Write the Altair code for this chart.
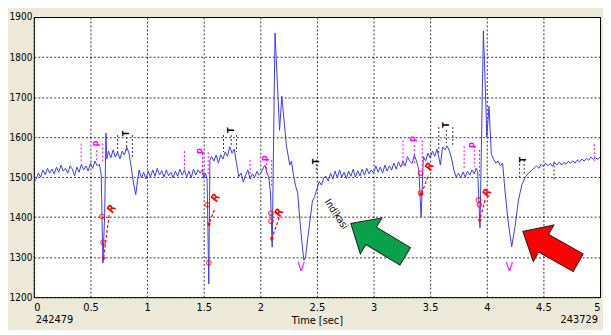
import math
import altair as alt
import pandas as pd

# ---------------- data ----------------
t_vals = [0.00,0.02,0.04,0.06,0.08,0.10,0.12,0.14,0.16,0.18,0.20,0.22,0.24,0.26,0.28,0.30,0.32,0.34,0.36,0.38,
          0.40,0.42,0.44,0.46,0.48,0.50,0.52,0.54,0.56,0.58,0.595,0.61,0.625,0.637,0.645,0.66,0.68,0.70,0.72,0.74,
          0.76,0.78,0.80,0.82,0.84,0.855,0.875,0.89,0.90,0.915,0.93,0.95,0.97,0.99,1.01,1.03,1.05,1.07,1.09,1.11,
          1.13,1.15,1.17,1.19,1.21,1.23,1.25,1.27,1.29,1.31,1.33,1.35,1.37,1.39,1.41,1.43,1.45,1.47,1.49,1.50,
          1.515,1.53,1.545,1.555,1.57,1.59,1.61,1.63,1.65,1.67,1.69,1.71,1.73,1.75,1.77,1.79,1.81,1.83,1.85,1.87,
          1.89,1.91,1.93,1.95,1.97,1.99,2.01,2.03,2.04,2.06,2.075,2.09,2.105,2.13,2.15,2.17,2.19,2.21,2.23,2.245,
          2.26,2.275,2.29,2.31,2.33,2.35,2.37,2.385,2.40,2.42,2.44,2.46,2.48,2.50,2.52,2.54,2.56,2.58,2.60,2.62,
          2.64,2.66,2.68,2.70,2.72,2.74,2.76,2.78,2.80,2.82,2.84,2.86,2.88,2.90,2.92,2.94,2.96,2.98,3.00,3.02,
          3.04,3.06,3.08,3.10,3.12,3.14,3.16,3.18,3.20,3.22,3.24,3.26,3.28,3.30,3.32,3.34,3.36,3.38,3.40,3.42,
          3.44,3.46,3.48,3.50,3.52,3.54,3.56,3.58,3.59,3.61,3.63,3.65,3.67,3.69,3.71,3.73,3.75,3.77,3.79,3.81,
          3.83,3.85,3.87,3.89,3.905,3.92,3.94,3.97,3.99,4.00,4.02,4.04,4.06,4.08,4.10,4.12,4.14,4.16,4.19,4.22,
          4.25,4.28,4.31,4.34,4.37,4.40,4.42,4.44,4.46,4.48,4.50,4.52,4.54,4.56,4.58,4.60,4.62,4.64,4.66,4.68,
          4.70,4.72,4.74,4.76,4.78,4.80,4.82,4.84,4.86,4.88,4.90,4.92,4.94,4.96,4.98,5.00]
v_vals = [1485,1495,1510,1500,1518,1506,1522,1510,1520,1508,1525,1512,1530,1515,1522,1510,1528,1520,1503,1525,
          1512,1532,1518,1528,1515,1535,1522,1540,1528,1532,1505,1285,1400,1610,1545,1565,1548,1568,1550,1562,
          1545,1565,1555,1575,1560,1534,1495,1470,1456,1490,1518,1498,1512,1495,1515,1500,1518,1502,1522,1505,
          1516,1500,1518,1503,1512,1498,1515,1502,1520,1505,1518,1500,1515,1498,1520,1505,1518,1510,1520,1497,
          1510,1495,1233,1543,1551,1540,1555,1535,1556,1545,1563,1552,1576,1560,1570,1534,1501,1510,1488,1505,
          1518,1495,1508,1500,1514,1505,1512,1525,1530,1510,1500,1460,1325,1860,1740,1617,1702,1640,1580,1555,
          1530,1540,1510,1480,1460,1390,1330,1292,1300,1350,1394,1440,1452,1470,1489,1480,1498,1502,1490,1510,
          1495,1515,1498,1518,1500,1512,1496,1515,1502,1520,1500,1516,1503,1520,1505,1522,1508,1518,1510,1528,
          1512,1525,1510,1530,1515,1528,1518,1535,1520,1538,1525,1540,1528,1551,1540,1534,1555,1540,1518,1400,
          1551,1540,1560,1548,1565,1552,1570,1545,1530,1575,1568,1578,1565,1545,1517,1500,1510,1498,1513,1500,
          1515,1505,1518,1508,1522,1513,1373,1865,1700,1600,1677,1557,1545,1535,1540,1528,1535,1468,1386,1326,
          1377,1443,1481,1500,1510,1518,1523,1528,1522,1532,1526,1535,1528,1534,1527,1536,1530,1538,1530,1537,
          1532,1540,1534,1541,1535,1543,1538,1545,1540,1547,1542,1550,1544,1548,1545,1550]

# P-wave marker lines (magenta) : time, top, bottom
p_line_t   = [0.418,0.555,0.608, 1.33,1.49,1.54, 1.91,2.055,2.10, 3.26,3.36,3.43, 3.80,3.89,3.936, 4.95]
p_line_top = [1584,1567,1584, 1565,1560,1562, 1543,1545,1543, 1592,1580,1592, 1577,1578,1568, 1582]
p_line_bot = [1535,1538,1534, 1515,1500,1505, 1501,1510,1476, 1525,1530,1520, 1522,1526,1501, 1540]
p_lab_t = [0.555, 1.48, 2.047, 3.36, 3.877]
p_lab_v = [1584, 1565, 1547, 1595, 1580]

# T-wave marker lines (black)
t_line_t   = [0.74,0.82,0.87, 1.675,1.743,1.79, 2.494, 3.576,3.643,3.70, 4.29,4.33,4.594]
t_line_top = [1605,1600,1605, 1605,1605,1605, 1543, 1625,1618,1625, 1543,1543,1539]
t_line_bot = [1560,1567,1548, 1563,1575,1563, 1510, 1559,1585,1576, 1493,1506,1489]
t_lab_t = [0.813, 1.743, 2.49, 3.643, 4.32]
t_lab_v = [1609, 1617, 1539, 1630, 1543]

# R markers
r_circ_t = [0.602,0.612, 1.532,1.545, 2.094,2.094, 3.415,3.415, 3.927,3.935]
r_circ_v = [1402,1337, 1431,1286, 1410,1390, 1510,1460, 1443,1431]
r_lab_t = [0.69, 1.61, 2.17, 3.50, 4.006]
r_lab_v = [1420, 1448, 1411, 1526, 1460]
r_arr_t1 = [0.665, 1.594, 2.167, 3.48, 3.985]
r_arr_v1 = [1405, 1418, 1399, 1501, 1443]
r_arr_t2 = [0.615, 1.544, 2.099, 3.42, 3.936]
r_arr_v2 = [1295, 1381, 1344, 1456, 1390]

# V labels
v_lab_t = [2.36, 4.20]
v_lab_v = [1274, 1274]

# big arrows
big_arr_t = [3.039, 4.563]
big_arr_v = [1343, 1325]
big_arr_dir = [211.2, 209.5]
big_arr_col = ["green", "red"]

note_text = ["Indikasi"]
note_t = [2.67]
note_v = [1407]

foot_text = ["242479", "243729"]
foot_t = [0.0, 5.0]
foot_v = [1144, 1144]

# ---------------- chart ----------------
W, H = 570, 282
XD, YD = [0, 5], [1200, 1900]
FONT = "Liberation Sans Narrow, DejaVu Sans Condensed, Liberation Sans, sans-serif"

xs = alt.Scale(domain=XD, nice=False, zero=False)
ys = alt.Scale(domain=YD, nice=False, zero=False)

sig = pd.DataFrame({"t": t_vals, "v": v_vals})

xax = alt.Axis(values=[i * 0.5 for i in range(11)], format="~g", title="Time [sec]",
               grid=True, ticks=False, domain=False, labelPadding=4, titlePadding=3)
yax = alt.Axis(values=list(range(1200, 1901, 100)), format="d", grid=True, ticks=False, domain=False,
               title=None, labelPadding=2, labelFontSize=10)

base_line = alt.Chart(sig).mark_line(color="#3A3AFF", strokeWidth=1).encode(
    x=alt.X("t:Q", scale=xs, axis=xax),
    y=alt.Y("v:Q", scale=ys, axis=yax),
)

def X(f): return alt.X(f, type="quantitative", scale=xs)
def Y(f): return alt.Y(f, type="quantitative", scale=ys)

pl = alt.Chart(pd.DataFrame({"t": p_line_t, "a": p_line_top, "b": p_line_bot})).mark_rule(
    color="#FF00FF", strokeDash=[2, 2], strokeWidth=1).encode(x=X("t"), y=Y("a"), y2="b")
tl = alt.Chart(pd.DataFrame({"t": t_line_t, "a": t_line_top, "b": t_line_bot})).mark_rule(
    color="#333333", strokeDash=[2, 2], strokeWidth=1).encode(x=X("t"), y=Y("a"), y2="b")

plab = alt.Chart(pd.DataFrame({"t": p_lab_t, "v": p_lab_v, "s": ["P"] * len(p_lab_t)})).mark_text(
    color="#FF00FF", font=FONT, fontSize=9, fontWeight="bold", angle=270).encode(x=X("t"), y=Y("v"), text="s")
tlab = alt.Chart(pd.DataFrame({"t": t_lab_t, "v": t_lab_v, "s": ["T"] * len(t_lab_t)})).mark_text(
    color="black", font=FONT, fontSize=9, fontWeight="bold", angle=270).encode(x=X("t"), y=Y("v"), text="s")

rc = alt.Chart(pd.DataFrame({"t": r_circ_t, "v": r_circ_v})).mark_point(
    shape="circle", filled=False, color="red", size=22, strokeWidth=1.2).encode(x=X("t"), y=Y("v"))

rad = pd.DataFrame({"t": r_arr_t1, "v": r_arr_v1, "t2": r_arr_t2, "v2": r_arr_v2})
rarr = alt.Chart(rad).mark_rule(color="red", strokeDash=[3, 2], strokeWidth=1.2).encode(
    x=X("t"), y=Y("v"), x2="t2", y2="v2")
pxt = W / (XD[1] - XD[0]); pxv = H / (YD[1] - YD[0])
heads = []
for a, b, c, d in zip(r_arr_t1, r_arr_v1, r_arr_t2, r_arr_v2):
    dx = (c - a) * pxt
    dy = -(d - b) * pxv
    heads.append(math.degrees(math.atan2(dx, -dy)) % 360)
rad["ang"] = heads
rhead = alt.Chart(rad).mark_point(shape="triangle-up", filled=True, color="red", size=18, opacity=1).encode(
    x=X("t2"), y=Y("v2"), angle=alt.Angle("ang:Q", scale=None))

rlab = alt.Chart(pd.DataFrame({"t": r_lab_t, "v": r_lab_v, "s": ["R"] * len(r_lab_t)})).mark_text(
    color="red", font=FONT, fontSize=11, fontStyle="italic", fontWeight="bold", angle=300).encode(
    x=X("t"), y=Y("v"), text="s")

vlab = alt.Chart(pd.DataFrame({"t": v_lab_t, "v": v_lab_v, "s": ["V"] * len(v_lab_t)})).mark_text(
    color="#FF00FF", font=FONT, fontSize=12).encode(x=X("t"), y=Y("v"), text="s")

note = alt.Chart(pd.DataFrame({"t": note_t, "v": note_v, "s": note_text})).mark_text(
    color="black", font=FONT, fontSize=10, angle=56).encode(x=X("t"), y=Y("v"), text="s")

ARROW = "M1,0L0.25,-0.66L0.25,-0.32L-1,-0.32L-1,0.32L0.25,0.32L0.25,0.66Z"
arr = alt.Chart(pd.DataFrame({"t": big_arr_t, "v": big_arr_v, "ang": big_arr_dir, "c": big_arr_col})).mark_point(
    shape=ARROW, filled=True, size=64 * 64, stroke="#222222", strokeWidth=1, opacity=1).encode(
    x=X("t"), y=Y("v"), angle=alt.Angle("ang:Q", scale=None),
    fill=alt.Fill("c:N", scale=alt.Scale(domain=["green", "red"], range=["#09A14A", "#FF0000"]), legend=None))

foot_df = pd.DataFrame({"t": foot_t, "v": foot_v, "s": foot_text})
foot_l = alt.Chart(foot_df.iloc[[0]]).mark_text(
    color="black", font=FONT, fontSize=11, baseline="middle", align="left", dx=2).encode(
    x=X("t"), y=Y("v"), text="s")
foot_r = alt.Chart(foot_df.iloc[[1]]).mark_text(
    color="black", font=FONT, fontSize=11, baseline="middle", align="right", dx=-2).encode(
    x=X("t"), y=Y("v"), text="s")

chart = alt.layer(base_line, pl, tl, plab, tlab, rarr, rhead, rc, rlab, vlab, note, arr, foot_l, foot_r).properties(
    width=W, height=H,
    padding={"left": 26, "top": 8, "right": 3, "bottom": 32},
    autosize=alt.AutoSizeParams(type="none"),
    background="#ECE9D8",
).configure_view(fill="white", stroke="black", strokeWidth=1).configure_axis(
    gridColor="black", gridDash=[2, 2], gridOpacity=0.8, gridWidth=1,
    labelFont=FONT, labelFontSize=11, labelColor="black",
    titleFont=FONT, titleFontSize=11, titleFontWeight="normal", titleColor="black",
)

chart.save("out.html", embed_options={"renderer": "svg", "actions": False})
